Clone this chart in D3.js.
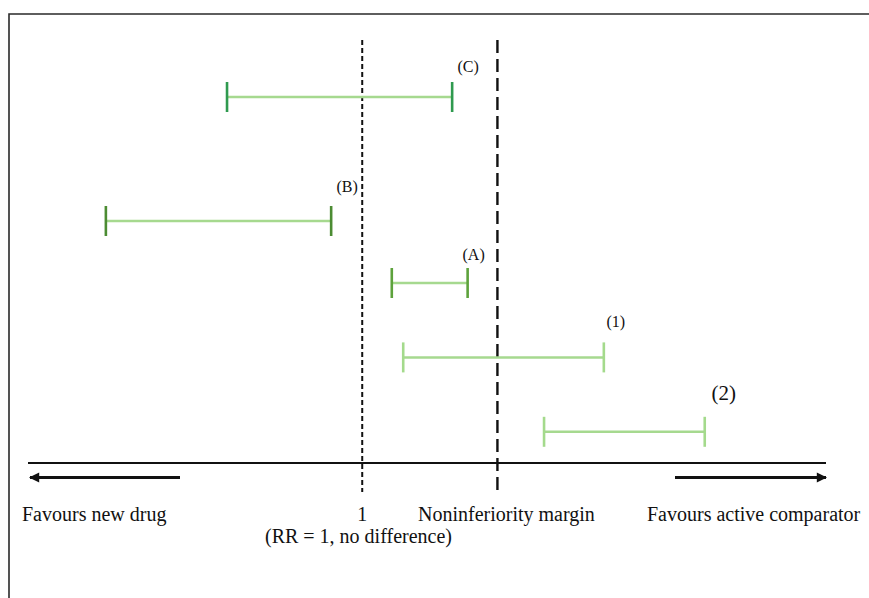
<!DOCTYPE html>
<meta charset="utf-8">
<style>

body { margin: 0; background: #fff; }

text {
  font-family: "Liberation Serif", "Times New Roman", serif;
  fill: #111;
}

.ci line { stroke-linecap: butt; }

</style>
<svg width="869" height="598"></svg>
<script src="https://d3js.org/d3.v7.min.js"></script>
<script>

// trials, top to bottom, with confidence interval bounds (relative risk)
var trials = ["(C)", "(B)", "(A)", "(1)", "(2)"];
var lower  = [0.80, 0.655, 1.05, 1.07, 1.35];
var upper  = [1.16, 0.95, 1.19, 1.49, 1.76];
var slot   = [0, 2, 3, 4.2, 5.4];

var noDiff = 1,
    margin = 1.25;

var svg = d3.select("svg");

var x = d3.scaleLog()
    .domain([0.576, 2.15])
    .range([28, 826]);

var y = d3.scaleLinear()
    .domain([0, 1])
    .range([97, 159]);

var capColor = d3.scaleOrdinal()
    .domain(trials)
    .range(["#2f9a4f", "#4c8c33", "#5da23c", "#a4da8c", "#a4da8c"]);

// label nudges (px), the labels in the figure are not placed uniformly
var labelDx = { "(C)": 16, "(B)": 16, "(A)": 6, "(1)": 12, "(2)": 19 },
    labelDy = { "(C)": -25, "(B)": -29, "(A)": -23, "(1)": -30, "(2)": -32 };

// frame
svg.append("path")
    .attr("d", "M9,600V14H872")
    .attr("fill", "none")
    .attr("stroke", "#2a2a2a")
    .attr("stroke-width", 1.6);

// reference lines
svg.append("line")
    .attr("x1", x(noDiff)).attr("x2", x(noDiff))
    .attr("y1", 40).attr("y2", 492)
    .attr("stroke", "#111")
    .attr("stroke-width", 2)
    .attr("stroke-dasharray", "5,3");

svg.append("line")
    .attr("x1", x(margin)).attr("x2", x(margin))
    .attr("y1", 40).attr("y2", 493)
    .attr("stroke", "#111")
    .attr("stroke-width", 2.4)
    .attr("stroke-dasharray", "13,6");

// axis line
svg.append("line")
    .attr("x1", x.range()[0]).attr("x2", x.range()[1])
    .attr("y1", 463).attr("y2", 463)
    .attr("stroke", "#111")
    .attr("stroke-width", 2);

// arrows
var defs = svg.append("defs");
defs.append("marker")
    .attr("id", "head")
    .attr("viewBox", "0 0 10 10")
    .attr("refX", 9).attr("refY", 5)
    .attr("markerWidth", 4).attr("markerHeight", 3.2)
    .attr("markerUnits", "strokeWidth")
    .attr("orient", "auto")
  .append("path")
    .attr("d", "M0,0L10,5L0,10z")
    .attr("fill", "#111");

svg.append("line")
    .attr("x1", 180).attr("x2", 30)
    .attr("y1", 477.5).attr("y2", 477.5)
    .attr("stroke", "#111")
    .attr("stroke-width", 3.2)
    .attr("marker-end", "url(#head)");

svg.append("line")
    .attr("x1", 675).attr("x2", 826)
    .attr("y1", 477.5).attr("y2", 477.5)
    .attr("stroke", "#111")
    .attr("stroke-width", 3.2)
    .attr("marker-end", "url(#head)");

// confidence intervals
var data = trials.map(function(t, i) {
  return { name: t, lo: lower[i], hi: upper[i], slot: slot[i] };
});

var ci = svg.selectAll(".ci")
  .data(data)
  .enter().append("g")
    .attr("class", "ci")
    .attr("transform", function(d) { return "translate(0," + y(d.slot) + ")"; });

ci.append("line")
    .attr("x1", function(d) { return x(d.lo); })
    .attr("x2", function(d) { return x(d.hi); })
    .attr("stroke", "#a6d98f")
    .attr("stroke-width", 2.5);

ci.selectAll(".cap")
  .data(function(d) { return [d.lo, d.hi].map(function(v) { return { v: v, name: d.name }; }); })
  .enter().append("line")
    .attr("class", "cap")
    .attr("x1", function(d) { return x(d.v); })
    .attr("x2", function(d) { return x(d.v); })
    .attr("y1", -15).attr("y2", 15)
    .attr("stroke", function(d) { return capColor(d.name); })
    .attr("stroke-width", 2.6);

ci.append("text")
    .attr("x", function(d) { return x(d.hi) + labelDx[d.name]; })
    .attr("y", function(d) { return labelDy[d.name]; })
    .attr("text-anchor", "middle")
    .style("font-size", function(d) { return d.name === "(2)" ? "21px" : "16px"; })
    .text(function(d) { return d.name; });

// bottom labels
svg.append("text")
    .attr("x", 22).attr("y", 521)
    .style("font-size", "20px")
    .text("Favours new drug");

svg.append("text")
    .attr("x", x(noDiff)).attr("y", 521)
    .attr("text-anchor", "middle")
    .style("font-size", "20px")
    .text("1");

svg.append("text")
    .attr("x", 418).attr("y", 521)
    .style("font-size", "20px")
    .text("Noninferiority margin");

svg.append("text")
    .attr("x", 265).attr("y", 543)
    .style("font-size", "20px")
    .text("(RR = 1, no difference)");

svg.append("text")
    .attr("x", 647).attr("y", 521)
    .style("font-size", "20px")
    .text("Favours active comparator");

</script>
